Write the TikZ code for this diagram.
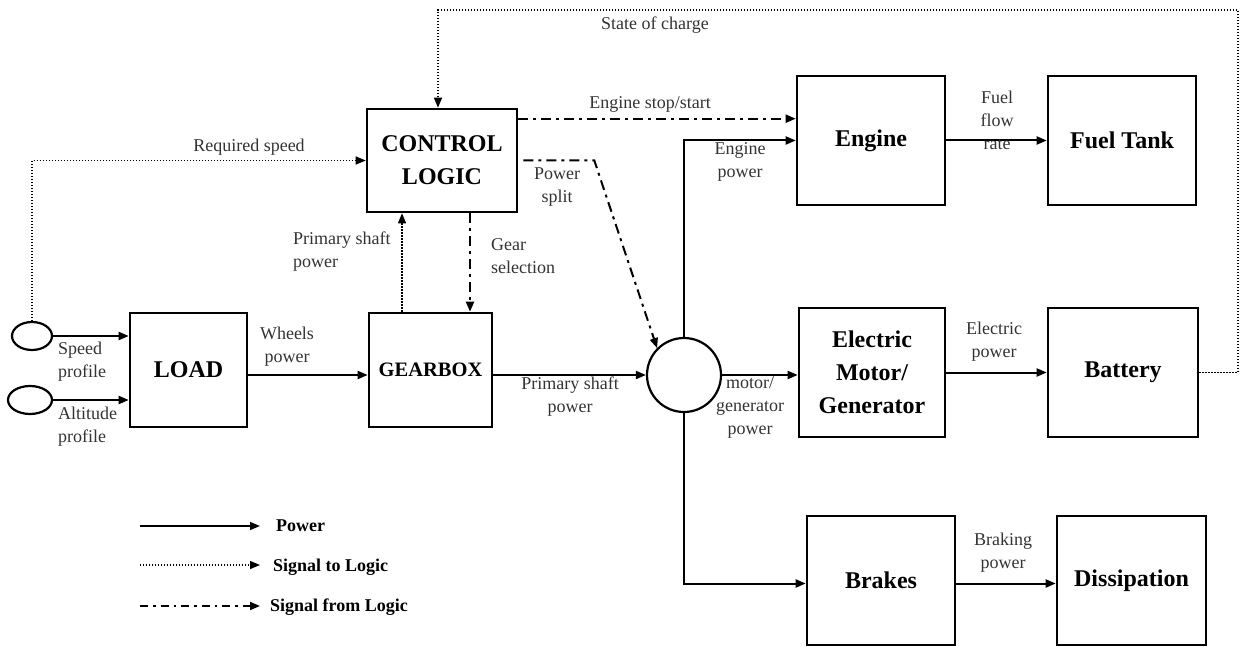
\documentclass[tikz,border=0pt]{standalone}
\usepackage{fontspec}
\setmainfont{Liberation Serif}
\usetikzlibrary{arrows.meta,shapes.geometric,calc}
\begin{document}
\begin{tikzpicture}[x=1pt,y=-1pt,
  box/.style={draw,line width=2.6pt,font=\fontsize{24}{33}\selectfont\bfseries,align=center,inner sep=0pt},
  lab/.style={font=\fontsize{18}{23}\selectfont,text=black!80,align=center,inner sep=0pt},
  leg/.style={font=\fontsize{18}{23}\selectfont\bfseries,inner sep=0pt,anchor=west},
  pow/.style={line width=2pt,-{Triangle[length=10pt,width=8pt]}},
  sig/.style={line width=1.4pt,dash pattern=on 1.4pt off 1.6pt,-{Triangle[length=10pt,width=8pt]}},
  ctl/.style={line width=2pt,dash pattern=on 10pt off 5pt on 3pt off 5pt,-{Triangle[length=10pt,width=8pt]}},
  prof/.style={draw,ellipse,line width=2.2pt,inner sep=0pt,minimum height=28pt}
]
\useasboundingbox (0,0) rectangle (1241,647);

% boxes
\node[box,minimum width=150pt,minimum height=103pt] (ctrl) at (442,160.5) {CONTROL\\LOGIC};
\node[box,minimum width=117pt,minimum height=114pt] (load) at (188.5,370) {LOAD};
\node[box,minimum width=123pt,minimum height=114pt,font=\fontsize{20.5}{28}\selectfont\bfseries] (gear) at (430.5,370) {GEARBOX};
\node[draw,circle,line width=2.2pt,minimum size=74pt,inner sep=0pt] (circ) at (684,375) {};
\node[box,minimum width=148pt,minimum height=129pt] (engine) at (871,140.5) {Engine};
\node[box,minimum width=148pt,minimum height=129pt] (fuel) at (1122,140.5) {Fuel Tank};
\node[box,minimum width=146pt,minimum height=129pt] (em) at (872,372.5) {Electric\\Motor/\\Generator};
\node[box,minimum width=150pt,minimum height=129pt] (batt) at (1123,372.5) {Battery};
\node[box,minimum width=148pt,minimum height=129pt] (brakes) at (881,580.5) {Brakes};
\node[box,minimum width=149pt,minimum height=129pt] (diss) at (1131.5,580.5) {Dissipation};

% profiles
\node[prof,minimum width=40pt] (sp) at (32,336) {};
\node[prof,minimum width=44pt] (alt) at (30,400) {};

% power connectors
\draw[pow] (sp.east) -- (sp.east -| load.west);
\draw[pow] (alt.east) -- (alt.east -| load.west);
\draw[pow] ([yshift=-5pt]load.east) -- ([yshift=-5pt]load.east -| gear.west);
\draw[pow] (gear.east |- circ.west) -- (circ.west);
\draw[pow] (circ.north) |- (engine.west);
\draw[pow] (circ.east) -- (circ.east -| em.west);
\draw[pow] (circ.south) |- ([yshift=-3pt]brakes.west);
\draw[pow] (engine.east) -- (fuel.west);
\draw[pow] (em.east) -- (em.east -| batt.west);
\draw[pow] ([yshift=-3pt]brakes.east) -- ([yshift=-3pt]brakes.east -| diss.west);

% signals to logic
\draw[sig] (sp.north) |- (ctrl.west);
\draw[sig] ([xshift=-28.5pt]gear.north) -- ([xshift=-28.5pt]gear.north |- ctrl.south);
\coordinate (socc) at (1238,10);
\draw[sig] (batt.east) -| (socc) -| ([xshift=-4pt]ctrl.north);

% signals from logic
\draw[ctl] ([xshift=28pt]ctrl.south) -- ([xshift=28pt]ctrl.south |- gear.north);
\draw[ctl] ([yshift=-11pt]ctrl.north east) -- ([yshift=-11pt]ctrl.north east -| engine.west);
\draw[ctl] ([xshift=5pt]ctrl.east) -- ++(71,0) -- (circ.north west);

% labels
\node[lab] (lrs) at (249,147) {Required speed};
\node[lab] (lwp) at (287,347) {Wheels\\power};
\node[lab] (lpsp) at (570,397) {Primary shaft\\power};
\node[lab,align=left,anchor=west] (lpsp2) at (293,252) {Primary shaft\\power};
\node[lab,align=left,anchor=west] (lgs) at (491,256) {Gear\\selection};
\node[lab] (lps) at (557,187) {Power\\split};
\node[lab] (less) at (650,104) {Engine stop/start};
\node[lab] (lsoc) at (655,25) {State of charge};
\node[lab] (lep) at (740,162) {Engine\\power};
\node[lab] (lmg) at (750,407) {motor/\\generator\\power};
\node[lab] (lffr) at (997,120) {Fuel\\flow\\rate};
\node[lab] (lel) at (994,342) {Electric\\power};
\node[lab] (lbp) at (1003,553) {Braking\\power};
\node[lab,align=left,anchor=west] (lspd) at (58,362) {Speed\\profile};
\node[lab,align=left,anchor=west] (lalt) at (58,427) {Altitude\\profile};

% legend
\coordinate (lg1) at (140,526);
\coordinate (lg2) at (140,565);
\coordinate (lg3) at (140,606);
\node[leg] (lgp) at (276,526) {Power};
\node[leg] (lgs) at (273,567) {Signal to Logic};
\node[leg] (lgf) at (270,607) {Signal from Logic};
\draw[pow,line width=1.6pt,shorten >=16pt] (lg1) -- (lg1 -| lgp.west);
\draw[sig,line width=1.2pt,shorten >=13pt] (lg2) -- (lg2 -| lgs.west);
\draw[ctl,line width=1.8pt,dash pattern=on 8pt off 5pt on 2.5pt off 5pt,shorten >=10pt] (lg3) -- (lg3 -| lgf.west);
\end{tikzpicture}
\end{document}
